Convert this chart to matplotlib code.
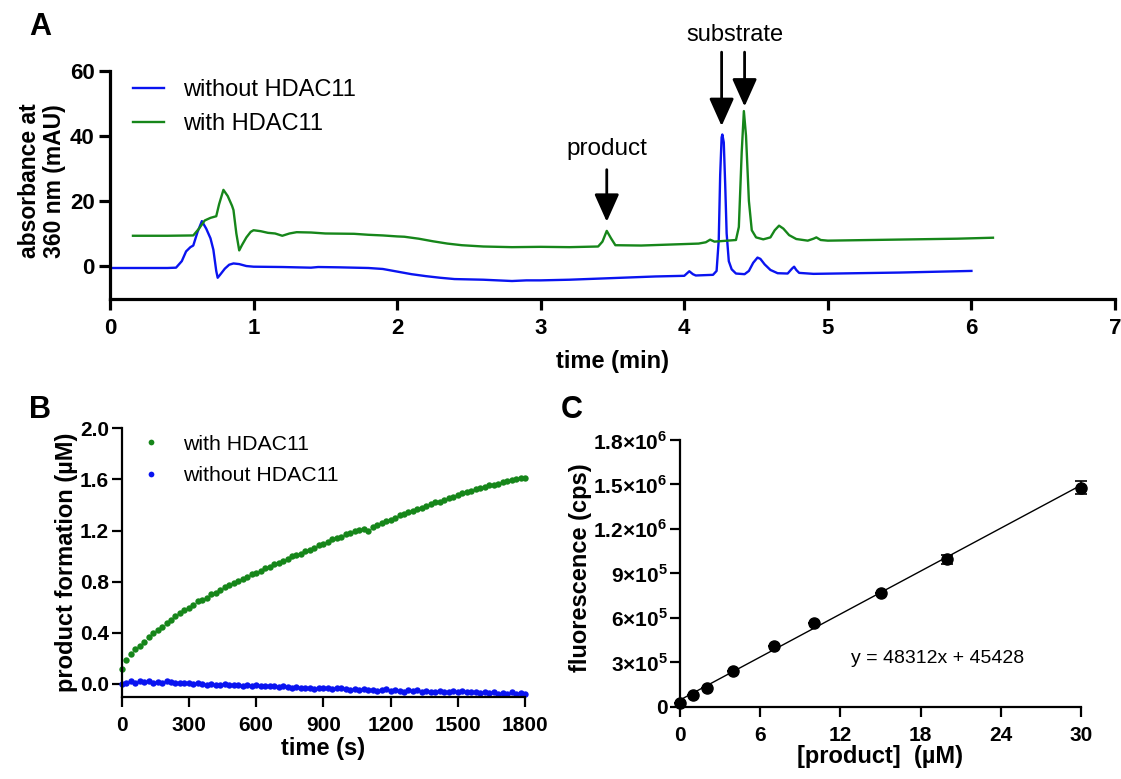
import numpy as np
import matplotlib
matplotlib.use("Agg")
import matplotlib.pyplot as plt
from matplotlib.patches import FancyArrowPatch

plt.rcParams['font.family'] = ['Liberation Sans', 'DejaVu Sans']
plt.rcParams['mathtext.fontset'] = 'custom'
plt.rcParams['mathtext.rm'] = 'Liberation Sans'
plt.rcParams['mathtext.bf'] = 'Liberation Sans:bold'

# ---------------- Panel A data (HPLC traces) ----------------
a_time_without = [0.01, 0.2, 0.4, 0.46, 0.5, 0.53, 0.56, 0.58, 0.61, 0.64, 0.67, 0.70, 0.72, 0.74, 0.75,
                  0.77, 0.80, 0.83, 0.86, 0.90, 0.95, 1.0, 1.2, 1.4, 1.45, 1.6, 1.8, 1.9, 2.0, 2.1, 2.2,
                  2.3, 2.4, 2.6, 2.8, 2.9, 3.0, 3.2, 3.5, 3.8, 4.0, 4.02, 4.035, 4.06, 4.08, 4.2, 4.225,
                  4.24, 4.25, 4.26, 4.265, 4.275, 4.285, 4.295, 4.31, 4.33, 4.36, 4.42, 4.45, 4.48, 4.51,
                  4.53, 4.56, 4.6, 4.65, 4.72, 4.75, 4.765, 4.78, 4.80, 4.9, 5.2, 5.5, 5.8, 6.0]
a_abs_without = [-0.6, -0.6, -0.6, -0.5, 1.5, 4.5, 5.8, 6.3, 10.5, 13.8, 11.5, 8.5, 5.0, -1.5, -3.6,
                 -2.5, -0.8, 0.4, 0.8, 0.6, 0.0, -0.2, -0.3, -0.5, -0.3, -0.4, -0.6, -0.9, -1.7, -2.5, -3.1,
                 -3.6, -4.0, -4.2, -4.6, -4.4, -4.4, -4.2, -3.7, -3.2, -3.0, -2.2, -1.6, -2.5, -2.9, -2.7, -1.5,
                 8.0, 28.0, 39.5, 40.4, 38.0, 25.0, 10.0, 1.5, -1.0, -2.3, -2.5, -1.5, 1.0, 2.6,
                 2.2, 0.5, -1.2, -2.2, -2.3, -0.8, -0.2, -1.2, -2.1, -2.4, -2.2, -2.0, -1.7, -1.5]

a_time_with = [0.16, 0.4, 0.58, 0.62, 0.66, 0.70, 0.74, 0.76, 0.79, 0.82, 0.85, 0.86, 0.88, 0.90, 0.92,
               0.95, 0.98, 1.0, 1.05, 1.1, 1.15, 1.2, 1.25, 1.3, 1.4, 1.5, 1.7, 1.8, 1.9, 2.0, 2.05,
               2.15, 2.25, 2.35, 2.45, 2.6, 2.8, 3.0, 3.2, 3.4, 3.43, 3.46, 3.49, 3.52, 3.7, 3.9, 4.1,
               4.15, 4.18, 4.21, 4.3, 4.36, 4.38, 4.40, 4.415, 4.43, 4.45, 4.47, 4.50, 4.55, 4.6,
               4.63, 4.66, 4.69, 4.73, 4.78, 4.86, 4.9, 4.92, 4.95, 5.0, 5.3, 5.6, 5.9, 6.15]
a_abs_with = [9.3, 9.3, 9.4, 11.5, 14.0, 14.8, 15.3, 19.0, 23.4, 21.5, 18.5, 17.2, 10.0, 4.8, 6.5,
              8.8, 10.5, 11.0, 10.7, 10.2, 10.0, 9.3, 10.0, 10.4, 10.3, 10.0, 9.9, 9.6, 9.4, 9.1, 9.0,
              8.4, 7.6, 6.9, 6.4, 6.0, 5.8, 5.9, 5.8, 6.0, 7.5, 10.8, 8.5, 6.4, 6.3, 6.6, 6.9,
              7.3, 8.1, 7.5, 7.8, 8.0, 12.0, 35.0, 47.6, 40.0, 20.0, 11.0, 8.8, 8.2, 8.8,
              11.0, 12.4, 11.5, 9.5, 8.3, 7.8, 8.4, 8.8, 8.0, 7.8, 8.0, 8.2, 8.4, 8.7]

# annotations: (x, arrow top, arrow tip)
a_product_arrow = (3.46, 29.6, 13.6)
a_substrate_arrows = [(4.26, 65.7, 43.0), (4.42, 65.7, 49.0)]

# ---------------- Panel B data (kinetics) ----------------
b_time = list(range(0, 1801, 20))
b_with = [0.120, 0.185, 0.235, 0.275, 0.300, 0.325, 0.365, 0.395, 0.425, 0.445,
          0.475, 0.500, 0.530, 0.555, 0.575, 0.595, 0.620, 0.645, 0.660, 0.675,
          0.700, 0.715, 0.735, 0.760, 0.775, 0.790, 0.805, 0.820, 0.840, 0.860,
          0.870, 0.885, 0.905, 0.915, 0.935, 0.950, 0.960, 0.980, 1.000, 1.010,
          1.020, 1.040, 1.050, 1.065, 1.085, 1.095, 1.110, 1.130, 1.140, 1.150,
          1.170, 1.180, 1.195, 1.205, 1.210, 1.200, 1.225, 1.240, 1.260, 1.275,
          1.285, 1.300, 1.320, 1.330, 1.345, 1.355, 1.365, 1.380, 1.395, 1.405,
          1.420, 1.425, 1.440, 1.455, 1.465, 1.480, 1.490, 1.500, 1.510, 1.525,
          1.530, 1.540, 1.555, 1.560, 1.565, 1.580, 1.590, 1.595, 1.605, 1.610,
          1.615]
b_without = [0.000, 0.010, 0.020, 0.005, 0.020, 0.015, 0.025, 0.010, 0.015, 0.010,
             0.020, 0.015, 0.010, 0.005, 0.005, 0.010, 0.000, 0.005, 0.000, -0.005,
             0.000, -0.005, -0.005, 0.000, -0.010, -0.005, -0.010, -0.015, -0.010, -0.020,
             -0.010, -0.020, -0.015, -0.020, -0.015, -0.025, -0.020, -0.025, -0.030, -0.025,
             -0.030, -0.035, -0.030, -0.040, -0.030, -0.035, -0.030, -0.040, -0.035, -0.030,
             -0.040, -0.045, -0.040, -0.050, -0.040, -0.045, -0.050, -0.055, -0.045, -0.040,
             -0.055, -0.050, -0.055, -0.060, -0.045, -0.055, -0.050, -0.060, -0.055, -0.065,
             -0.060, -0.055, -0.060, -0.065, -0.055, -0.060, -0.055, -0.065, -0.060, -0.065,
             -0.070, -0.065, -0.070, -0.065, -0.075, -0.070, -0.075, -0.065, -0.075, -0.070,
             -0.075]

# ---------------- Panel C data (calibration) ----------------
c_conc = [0, 1, 2, 4, 7, 10, 15, 20, 30]
c_fluor = [22000, 78000, 128000, 240000, 412000, 564000, 766000, 995000, 1478000]
c_err = [0, 0, 0, 0, 0, 0, 0, 30000, 45000]
c_slope = 48312
c_intercept = 45428
c_yticks = [0, 300000, 600000, 900000, 1200000, 1500000, 1800000]
c_yticklabels = ['0', r'3×10$^{\mathbf{5}}$', r'6×10$^{\mathbf{5}}$', r'9×10$^{\mathbf{5}}$',
                 r'1.2×10$^{\mathbf{6}}$', r'1.5×10$^{\mathbf{6}}$', r'1.8×10$^{\mathbf{6}}$']

BLUE = '#0a14f0'
GREEN = '#16861a'

W, H = 1121, 779
fig = plt.figure(figsize=(W / 100, H / 100), dpi=100)


def px_axes(left, right, top, bottom):
    return fig.add_axes([left / W, 1 - bottom / H, (right - left) / W, (bottom - top) / H])


def style(ax, lw, tlen, xpad, ypad, fs):
    for s in ['top', 'right']:
        ax.spines[s].set_visible(False)
    for s in ['left', 'bottom']:
        ax.spines[s].set_linewidth(lw)
    ax.tick_params(axis='both', width=lw, length=tlen, labelsize=fs, direction='out')
    ax.tick_params(axis='x', pad=xpad)
    ax.tick_params(axis='y', pad=ypad)
    for lab in ax.get_xticklabels() + ax.get_yticklabels():
        lab.set_fontweight('bold')


# ---------------- Panel A ----------------
axA = px_axes(110, 1115, 70.7, 298.6)
axA.plot(a_time_without, a_abs_without, color=BLUE, lw=1.7, label='without HDAC11')
axA.plot(a_time_with, a_abs_with, color=GREEN, lw=1.7, label='with HDAC11')
axA.set_xlim(0, 7)
axA.set_ylim(-10, 60)
axA.set_xticks(range(0, 8))
axA.set_yticks([0, 20, 40, 60])
style(axA, 2.3, 8, 6, 3, 16)
axA.legend(loc='upper left', bbox_to_anchor=(0.0229, 0.962), frameon=False, fontsize=17,
           borderpad=0, borderaxespad=0, handlelength=1.3, handletextpad=0.8, labelspacing=0.5)

arrow_kw = dict(arrowstyle='-|>,head_length=0.85,head_width=0.38', mutation_scale=20,
                color='black', lw=2.0, shrinkA=0, shrinkB=0, clip_on=False)
x0, y_top, y_tip = a_product_arrow
axA.add_patch(FancyArrowPatch((x0, y_top), (x0, y_tip), **arrow_kw))
axA.text(x0, 35.8, 'product', ha='center', va='center', fontsize=17.5)
for (x0, y_top, y_tip) in a_substrate_arrows:
    axA.add_patch(FancyArrowPatch((x0, y_top), (x0, y_tip), **arrow_kw))
axA.text(4.35, 71.0, 'substrate', ha='center', va='center', fontsize=17, clip_on=False)

fig.text(42 / W, 1 - 181 / H, 'absorbance at\n360 nm (mAU)', rotation=90, ha='center', va='center',
         fontsize=16.5, fontweight='bold', linespacing=1.1)
fig.text(612 / W, 1 - 362 / H, 'time (min)', ha='center', va='center', fontsize=17, fontweight='bold')
fig.text(40 / W, 1 - 27 / H, 'A', ha='center', va='center', fontsize=22, fontweight='bold')

# ---------------- Panel B ----------------
axB = px_axes(121.7, 525, 428.3, 696.7)
axB.plot(b_time, b_with, 'o', color=GREEN, ms=4.6, mew=0, label='with HDAC11', clip_on=False)
axB.plot(b_time, b_without, 'o', color=BLUE, ms=4.6, mew=0, label='without HDAC11', clip_on=False)
axB.set_xlim(0, 1800)
axB.set_ylim(-0.1, 2.0)
axB.set_xticks(range(0, 1801, 300))
axB.set_yticks([0.0, 0.4, 0.8, 1.2, 1.6, 2.0])
axB.set_yticklabels(['0.0', '0.4', '0.8', '1.2', '1.6', '2.0'])
style(axB, 1.6, 7, 7, 2, 15)
axB.legend(loc='upper left', bbox_to_anchor=(0.0565, 0.976), frameon=False, fontsize=15.3,
           borderpad=0, borderaxespad=0, handlelength=0.6, handletextpad=1.2, labelspacing=0.58,
           markerscale=0.9)
fig.text(67 / W, 1 - 562 / H, 'product formation (µM)', rotation=90, ha='center', va='center',
         fontsize=17, fontweight='bold')
fig.text(323 / W, 1 - 748 / H, 'time (s)', ha='center', va='center', fontsize=17, fontweight='bold')
fig.text(40 / W, 1 - 410 / H, 'B', ha='center', va='center', fontsize=22, fontweight='bold')

# ---------------- Panel C ----------------
axC = px_axes(680, 1081, 440, 706.7)
xfit = np.array([c_conc[0], c_conc[-1]])
axC.plot(xfit, c_slope * xfit + c_intercept, color='black', lw=1.0, zorder=2)
axC.errorbar(c_conc, c_fluor, yerr=c_err, fmt='o', color='black', ms=8, capsize=4,
             elinewidth=1.2, capthick=1.2, zorder=3, clip_on=False)
axC.set_xlim(0, 30)
axC.set_ylim(0, 1800000)
axC.set_xticks(range(0, 31, 6))
axC.set_yticks(c_yticks)
axC.set_yticklabels(c_yticklabels)
style(axC, 1.6, 7, 7, 2, 15)
axC.text(12.8, 325000, 'y = 48312x + 45428', ha='left', va='center', fontsize=14)
fig.text(581 / W, 1 - 568 / H, 'fluorescence (cps)', rotation=90, ha='center', va='center',
         fontsize=17, fontweight='bold')
fig.text(880 / W, 1 - 757 / H, '[product]  (µM)', ha='center', va='center', fontsize=17, fontweight='bold')
fig.text(572 / W, 1 - 410 / H, 'C', ha='center', va='center', fontsize=22, fontweight='bold')

fig.savefig('out.png', dpi=100)
